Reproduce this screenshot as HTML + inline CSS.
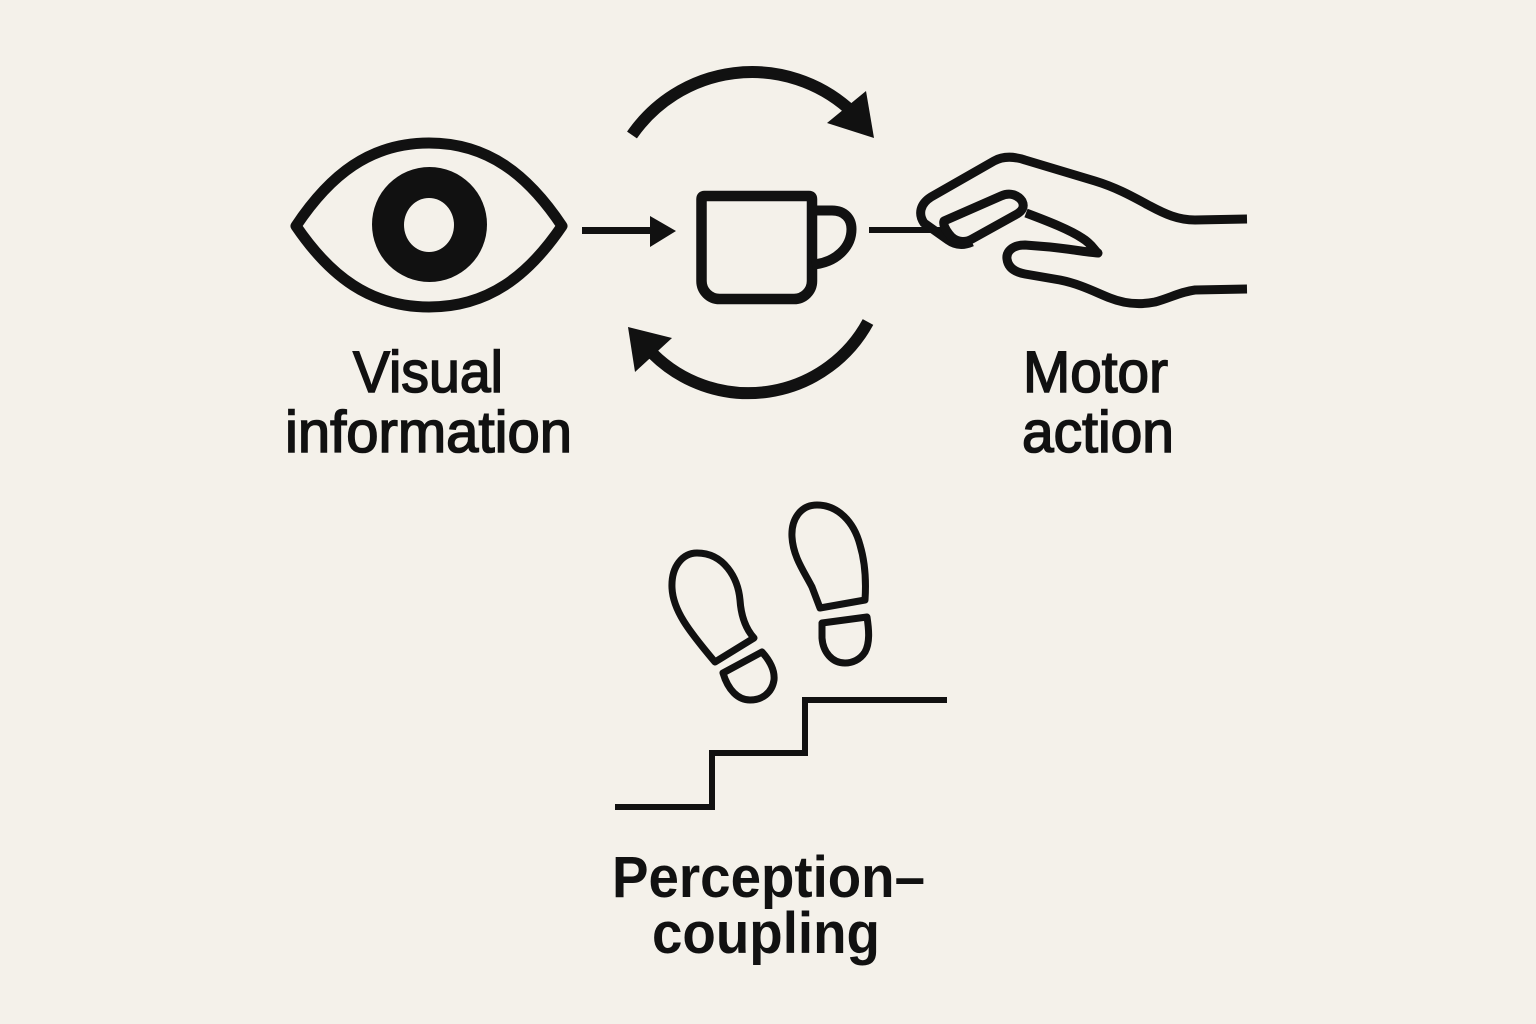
<!DOCTYPE html>
<html>
<head>
<meta charset="utf-8">
<style>
  html, body { margin: 0; padding: 0; background: #f4f1ea; }
  body { width: 1536px; height: 1024px; overflow: hidden; }
  svg { display: block; }
  .lbl { font-family: "Liberation Sans", "DejaVu Sans", sans-serif; font-size: 58px; fill: #111; }
  .med { stroke: #111; stroke-width: 1.6px; }
  .bold { font-weight: bold; }
</style>
</head>
<body>
<svg width="1536" height="1024" viewBox="0 0 1536 1024" xmlns="http://www.w3.org/2000/svg">
  <rect x="0" y="0" width="1536" height="1024" fill="#f4f1ea"/>

  <!-- Eye -->
  <path d="M296,226 C330,175 370,143 429,143 C488,143 528,175 562,226 C528,276 488,307 429,307 C370,307 330,276 296,226 Z"
        fill="none" stroke="#111" stroke-width="11" stroke-linejoin="round"/>
  <circle cx="429.5" cy="224.5" r="57.5" fill="#111"/>
  <ellipse cx="429" cy="225" rx="25" ry="27" fill="#f4f1ea"/>

  <!-- Arrow eye -> cup -->
  <line x1="582" y1="230.5" x2="652" y2="230.5" stroke="#111" stroke-width="7"/>
  <polygon points="650,216 676,231 650,247" fill="#111"/>

  <!-- Cup -->
  <path d="M701.5,199 Q701.5,196 704.5,196 L809,196 Q812,196 812,199 L812,281 A18,18 0 0 1 794,299 L719.5,299 A18,18 0 0 1 701.5,281 Z"
        fill="none" stroke="#111" stroke-width="10.5" stroke-linejoin="round"/>
  <path d="M812,210.5 L832,210.5 C845,210.5 851.5,219 851.5,229 C851.5,247 836,263 812,264.5"
        fill="none" stroke="#111" stroke-width="10"/>

  <!-- Top arc arrow -->
  <path d="M632,135 A146,146 0 0 1 848,108" fill="none" stroke="#111" stroke-width="12"/>
  <polygon points="866,91 874,138 827,123" fill="#111"/>

  <!-- Bottom arc arrow -->
  <path d="M868,322 A136,136 0 0 1 653,354" fill="none" stroke="#111" stroke-width="12"/>
  <polygon points="628,327 672,338 635,372" fill="#111"/>

  <!-- Line cup -> hand -->
  <line x1="869" y1="230" x2="946" y2="230" stroke="#111" stroke-width="6"/>

  <!-- Hand -->
  <g fill="none" stroke="#111" stroke-width="9" stroke-linecap="butt" stroke-linejoin="round">
    <path d="M1247,219 L1195,220 C1178,220 1165,214 1150,206 C1135,198 1118,188 1095,181 L1025,160 C1013,156 1003,156 994,161 L931,197 C920,204 918,214 924,223 L948,240 C955,245 963,246 972,242"/>
    <path d="M944,221 L1001,196 C1010,192 1018,195 1022,201 C1025,207 1022,211 1017,214 L972,239 C963,244 954,241 949,234 C945,229 943,224 944,221 Z"/>
    <path d="M1026,213 C1050,222 1070,230 1082,238 C1092,244 1094,250 1098,253 C1085,252 1070,249 1050,247 L1025,245 C1012,245 1006,252 1007,259 C1008,267 1014,272 1025,274 L1060,280 C1080,284 1095,292 1110,298 C1125,304 1140,305 1155,302 C1170,298 1180,292 1195,290 L1247,289"/>
  </g>

  <!-- Footprints -->
  <g fill="none" stroke="#111" stroke-width="7" stroke-linejoin="round">
    <path d="M697,553 C683,553 671,566 672,588 C673,610 688,630 715,662 L754,638 C745,628 741,615 740,600 C738,578 724,553 697,553 Z"/>
    <path d="M723,673 L762,652 C770,661 775,670 774,680 C772,693 762,700 750,700 C738,700 728,690 723,673 Z"/>
    <path d="M817,505 C800,505 791,520 792,537 C793,557 805,573 812,587 L820,608 L865,600 C866,585 866,565 860,545 C854,522 838,505 817,505 Z"/>
    <path d="M822,623 L867,617 C869,630 870,643 865,652 C860,660 852,663 845,663 C832,663 823,652 822,638 Z"/>
  </g>

  <!-- Stairs -->
  <path d="M615,807 L712,807 L712,753 L805,753 L805,700 L947,700" fill="none" stroke="#111" stroke-width="6" stroke-linejoin="miter"/>

  <!-- Labels -->
  <text class="lbl med" x="353" y="392" textLength="150" lengthAdjust="spacingAndGlyphs">Visual</text>
  <text class="lbl med" x="285" y="452" textLength="287" lengthAdjust="spacingAndGlyphs">information</text>
  <text class="lbl med" x="1023" y="392" textLength="145" lengthAdjust="spacingAndGlyphs">Motor</text>
  <text class="lbl med" x="1022" y="452" textLength="152" lengthAdjust="spacingAndGlyphs">action</text>
  <text class="lbl bold" x="612" y="897" textLength="313" lengthAdjust="spacingAndGlyphs">Perception–</text>
  <text class="lbl bold" x="652" y="953" textLength="228" lengthAdjust="spacingAndGlyphs">coupling</text>
</svg>
</body>
</html>
